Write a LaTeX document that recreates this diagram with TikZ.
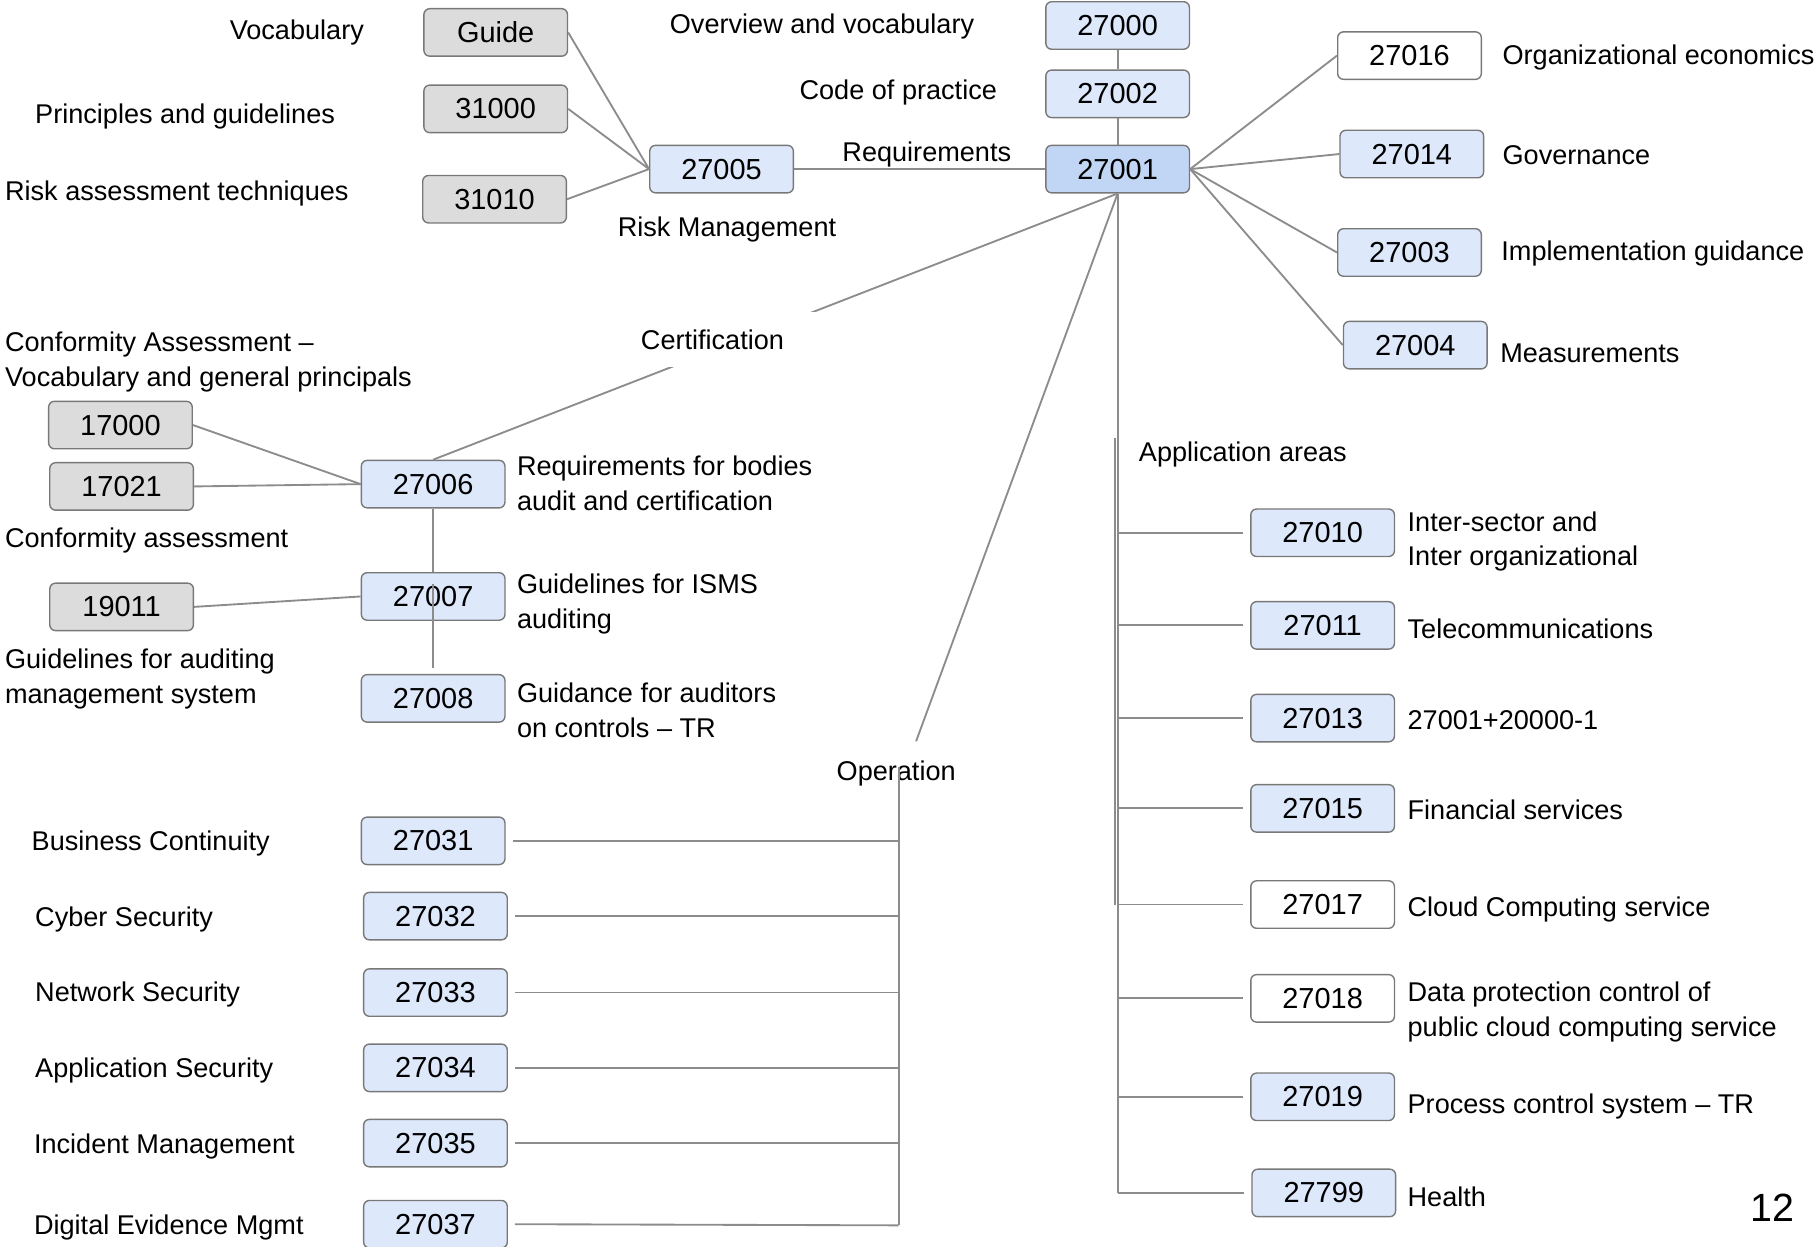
\documentclass[tikz,border=0pt]{standalone}
\usepackage{fontspec}
\setmainfont{Liberation Sans}
\definecolor{linegrey}{RGB}{140,140,140}
\definecolor{boxline}{RGB}{120,120,120}
\definecolor{greyfill}{RGB}{220,220,220}
\definecolor{bluefill}{RGB}{222,232,251}
\definecolor{keyfill}{RGB}{193,214,245}
\newcommand{\lblfont}{\fontsize{11.7}{15}\selectfont}
\newcommand{\boxfont}{\fontsize{12.5}{15}\selectfont}
\tikzset{
  isobox/.style={draw=boxline,line width=0.6pt,rounded corners=2.5pt,minimum width=62pt,minimum height=20.5pt,inner sep=0pt,font=\boxfont},
  greybox/.style={isobox,fill=greyfill},
  bluebox/.style={isobox,fill=bluefill},
  whitebox/.style={isobox,fill=white},
  keybox/.style={isobox,fill=keyfill},
  lbl/.style={font=\lblfont,inner sep=0pt,align=left,anchor=west,yshift=-1pt},
  conn/.style={draw=linegrey,line width=0.8pt}
}
\begin{document}
\begin{tikzpicture}[x=0.5pt,y=-0.5pt,line join=round]
\useasboundingbox (0,0) rectangle (1568,1076);

    % risk management
    \node[greybox] (bguide) at (428,28) {Guide};
    \node[greybox] (b31000) at (428,94) {31000};
    \node[greybox] (b31010) at (427,172) {31010};
    \node[bluebox] (b27005) at (623,146) {27005};

    % core
    \node[bluebox] (b27000) at (965,22) {27000};
    \node[bluebox] (b27002) at (965,81) {27002};
    \node[keybox] (b27001) at (965,146) {27001};
    \node[whitebox] (b27016) at (1217,48) {27016};
    \node[bluebox] (b27014) at (1219,133) {27014};
    \node[bluebox] (b27003) at (1217,218) {27003};
    \node[bluebox] (b27004) at (1222,298) {27004};

    % certification
    \node[greybox] (b17000) at (104,367) {17000};
    \node[greybox] (b17021) at (105,420) {17021};
    \node[greybox] (b19011) at (105,524) {19011};
    \node[bluebox] (b27006) at (374,418) {27006};
    \node[bluebox] (b27007) at (374,515) {27007};
    \node[bluebox] (b27008) at (374,603) {27008};

    % application areas
    \node[bluebox] (b27010) at (1142,460) {27010};
    \node[bluebox] (b27011) at (1142,540) {27011};
    \node[bluebox] (b27013) at (1142,620) {27013};
    \node[bluebox] (b27015) at (1142,698) {27015};
    \node[whitebox] (b27017) at (1142,781) {27017};
    \node[whitebox] (b27018) at (1142,862) {27018};
    \node[bluebox] (b27019) at (1142,947) {27019};
    \node[bluebox] (b27799) at (1143,1030) {27799};

    % operation
    \node[bluebox] (b27031) at (374,726) {27031};
    \node[bluebox] (b27032) at (376,791) {27032};
    \node[bluebox] (b27033) at (376,857) {27033};
    \node[bluebox] (b27034) at (376,922) {27034};
    \node[bluebox] (b27035) at (376,987) {27035};
    \node[bluebox] (b27037) at (376,1057) {27037};

    \coordinate (appbus) at (965,1030);
    \coordinate (apptop) at (963,378);
    \coordinate (appbot) at (963,781);
    \coordinate (opup) at (791,640);
    \coordinate (optop) at (776,662);
    \coordinate (opbus) at (776,1058);

\draw[conn] (bguide.east)--(b27005.west);
\draw[conn] (b31000.east)--(b27005.west);
\draw[conn] (b31010.east)--(b27005.west);
\draw[conn] (b27005.east)--(b27001.west);
\draw[conn] (b27000.south)--(b27002.north);
\draw[conn] (b27002.south)--(b27001.north);
\draw[conn] (b27001.east)--(b27016.west);
\draw[conn] (b27001.east)--(b27014.west);
\draw[conn] (b27001.east)--(b27003.west);
\draw[conn] (b27001.east)--(b27004.west);
\draw[conn] (b27001.south)--(b27006.north);
\draw[conn] (b27001.south)--(opup);
\draw[conn] (b17000.east)--(b27006.west);
\draw[conn] (b17021.east)--(b27006.west);
\draw[conn] (b19011.east)--(b27007.west);
\draw[conn] (b27006.south)--(b27007.north);
\draw[conn] ([yshift=-5pt]b27007.north)--([yshift=2.5pt]b27008.north);

\draw[conn] (b27001.south)--(appbus);
\draw[conn] (apptop)--(appbot);
\draw[conn] (b27010.west -| appbus)--([xshift=-3pt]b27010.west);
\draw[conn] (b27011.west -| appbus)--([xshift=-3pt]b27011.west);
\draw[conn] (b27013.west -| appbus)--([xshift=-3pt]b27013.west);
\draw[conn] (b27015.west -| appbus)--([xshift=-3pt]b27015.west);
\draw[conn] (b27017.west -| appbus)--([xshift=-3pt]b27017.west);
\draw[conn] (b27018.west -| appbus)--([xshift=-3pt]b27018.west);
\draw[conn] (b27019.west -| appbus)--([xshift=-3pt]b27019.west);
\draw[conn] (appbus)--([xshift=-3pt]b27799.west);

    \node[lbl] (tvoc) at (198,26) {Vocabulary};
    \node[lbl] (tprin) at (30,99) {Principles and guidelines};
    \node[lbl] (trisk) at (4,165) {Risk assessment techniques};
    \node[lbl] (tover) at (578,21) {Overview and vocabulary};
    \node[lbl] (tcode) at (690,78) {Code of practice};
    \node[lbl] (treq) at (727,131) {Requirements};
    \node[lbl] (trm) at (533,196) {Risk Management};
    \node[lbl] (torg) at (1297,48) {Organizational economics};
    \node[lbl] (tgov) at (1297,132) {Governance};
    \node[lbl] (timpl) at (1296,217) {Implementation guidance};
    \node[lbl] (tmeas) at (1295,303) {Measurements};
    \node[lbl,fill=white,inner xsep=4pt,text width=74pt,minimum height=24pt,yshift=1pt] (tcert) at (545,293) {Certification};
    \node[lbl] (tca) at (4,310.5) {Conformity Assessment –\\Vocabulary and general principals};
    \node[lbl] (treqb) at (446,415) {Requirements for bodies\\audit and certification};
    \node[lbl] (tconf) at (4,465) {Conformity assessment};
    \node[lbl] (tisms) at (446,519.5) {Guidelines for ISMS\\auditing};
    \node[lbl] (taud) at (4,584.5) {Guidelines for auditing\\management system};
    \node[lbl] (tgaud) at (446,611) {Guidance for auditors\\on controls – TR};
    \node[lbl] (tapp) at (983,390) {Application areas};
    \node[lbl] (tinter) at (1215,465.5) {Inter-sector and\\Inter organizational};
    \node[lbl] (ttel) at (1215,541) {Telecommunications};
    \node[lbl] (tsvc) at (1215,620) {27001+20000-1};
    \node[lbl] (tfin) at (1215,697) {Financial services};
    \node[lbl] (tcloud) at (1215,783) {Cloud Computing service};
    \node[lbl] (tdata) at (1215,872) {Data protection control of\\public cloud computing service};
    \node[lbl] (tproc) at (1215,953) {Process control system – TR};
    \node[lbl] (thealth) at (1215,1031) {Health};
    \node[lbl] (toper) at (722,666) {Operation};
    \node[lbl] (tbc) at (27,726) {Business Continuity};
    \node[lbl] (tcyber) at (30,792) {Cyber Security};
    \node[lbl] (tnet) at (30,857) {Network Security};
    \node[lbl] (tappsec) at (30,922) {Application Security};
    \node[lbl] (tinc) at (29,988) {Incident Management};
    \node[lbl] (tdig) at (29,1058) {Digital Evidence Mgmt};
    \node[lbl,anchor=east,font=\fontsize{17}{20}\selectfont] (tpage) at (1550,1041) {12};

\draw[conn] (optop)--(opbus);
\draw[conn] ([xshift=3pt]b27031.east)--(b27031.east -| opbus);
\draw[conn] ([xshift=3pt]b27032.east)--(b27032.east -| opbus);
\draw[conn] ([xshift=3pt]b27033.east)--(b27033.east -| opbus);
\draw[conn] ([xshift=3pt]b27034.east)--(b27034.east -| opbus);
\draw[conn] ([xshift=3pt]b27035.east)--(b27035.east -| opbus);
\draw[conn] ([xshift=3pt]b27037.east)--(opbus);
  \end{tikzpicture}
\end{document}
